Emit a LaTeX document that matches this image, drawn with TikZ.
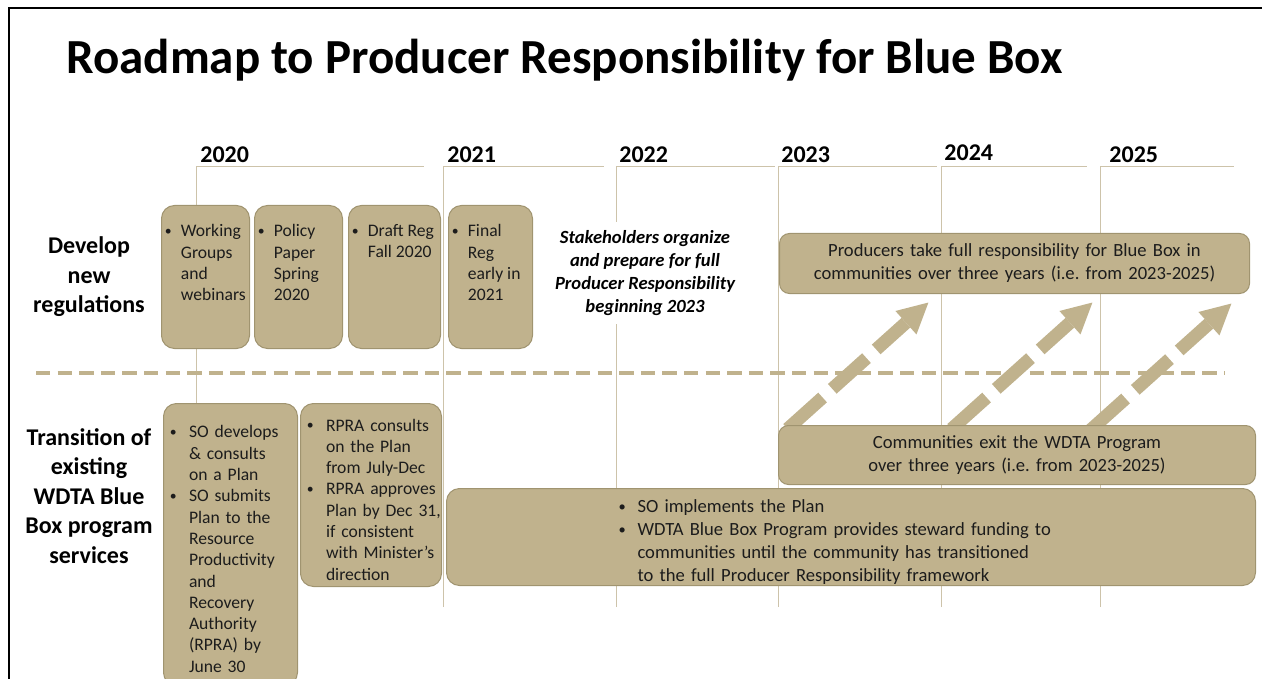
\documentclass[tikz,border=0pt]{standalone}
\usepackage{fontspec}
\setmainfont{Carlito}
\usetikzlibrary{arrows.meta}
\frenchspacing
\definecolor{boxtan}{RGB}{192,178,141}
\definecolor{boxedge}{RGB}{160,148,112}
\definecolor{yeartan}{RGB}{205,195,170}
\definecolor{ink}{RGB}{28,28,28}
\newlength\bulw
\newlength\bulx
\newcommand\bul{\par\noindent\leftskip=\bulx\hangindent=\bulw\hangafter=1\relax
  \makebox[\bulw][l]{\hspace{0.05em}\raisebox{0.08em}{\scalebox{0.78}{\textbullet}}}}
\newcommand\topcell[2]{\parbox[c][52.5pt][t]{#1}{\raggedright#2\par}}
\begin{document}
\begin{tikzpicture}[x=0.5pt, y=-0.5pt,
    yearlbl/.style={anchor=base west, inner sep=0pt, font=\bfseries\fontsize{12}{14}\selectfont},
    yearline/.style={draw=yeartan, line width=0.5pt},
    rowlbl/.style={align=center, font=\bfseries\fontsize{12}{14.8}\selectfont},
    bullets/.style 2 args={execute at begin node={\setlength\bulw{#1}\setlength\bulx{#2}}},
    topbox/.style={draw=boxedge, fill=boxtan, line width=0.5pt, rounded corners=6.5pt, anchor=north west,
      inner xsep=0pt, inner ysep=9.5pt, text=ink, font=\fontsize{8.8}{10.65}\selectfont, bullets={8.5pt}{1.2pt}},
    lowbox/.style={draw=boxedge, fill=boxtan, line width=0.5pt, rounded corners=6.5pt, anchor=north west,
      inner sep=0pt, align=left, text=ink, font=\fontsize{8.8}{10.65}\selectfont, bullets={10pt}{2.75pt}},
    widebox/.style={draw=boxedge, fill=boxtan, line width=0.5pt, rounded corners=5pt, anchor=north west,
      inner sep=0pt, align=center, text=ink, font=\fontsize{9.3}{11.5}\selectfont},
    upstep/.style={draw=boxtan, line width=6.5pt, dash pattern=on 23.5pt off 6.5pt on 23pt off 6.5pt on 20pt off 20pt,
      -{Triangle[width=14.5pt, length=15.5pt]}}]
    \useasboundingbox (0,0) rectangle (1262,679);
    \draw[line width=1pt] (8.5,679) -- (8.5,8.5) -- (1262,8.5);
    \node[anchor=base west, inner sep=0pt, font=\bfseries\fontsize{24.5}{28}\selectfont] (title) at (66,74)
      {Roadmap to Producer Responsibility for Blue Box};

    \draw[yearline] (196,607) -- (196,167) -- (424,167);
    \draw[yearline] (443,607) -- (443,167) -- (604,167);
    \draw[yearline] (616,607) -- (616,167) -- (775,167);
    \draw[yearline] (778,607) -- (778,167) -- (937,167);
    \draw[yearline] (941,607) -- (941,167) -- (1087,167);
    \draw[yearline] (1100,607) -- (1100,167) -- (1234,167);
    \node[yearlbl] (y2020) at (200,163) {2020};
    \node[yearlbl] (y2021) at (447,163) {2021};
    \node[yearlbl] (y2022) at (619,163) {2022};
    \node[yearlbl] (y2023) at (781,163) {2023};
    \node[yearlbl] (y2024) at (944,161) {2024};
    \node[yearlbl] (y2025) at (1109,163) {2025};

    \draw[draw=boxtan, line width=1.85pt, dash pattern=on 7.2pt off 3.6pt] (36,373) -- (1225,373);

    \node[rowlbl] (regs) at (89,277) {Develop\\new\\regulations};
    \node[rowlbl] (trans) at (89,496) {Transition of\\existing\\WDTA Blue\\Box program\\services};

    \node[topbox] (wg) at (161,205) {\topcell{44pt}{\bul Working\newline Groups\newline and\newline webinars}};
    \node[topbox] (pp) at (254,205) {\topcell{44pt}{\bul Policy\newline Paper\newline Spring\newline 2020}};
    \node[topbox] (dr) at (348,205) {\topcell{46pt}{\bul Draft Reg\newline Fall 2020}};
    \node[topbox] (fr) at (448,205) {\topcell{42pt}{\bul Final\newline Reg\newline early in\newline 2021}};
    \node[fill=white, inner xsep=2pt, inner ysep=4.5pt, align=center, font=\bfseries\itshape\fontsize{9.3}{11.4}\selectfont]
      (prep) at (645,273) {Stakeholders organize\\and prepare for full\\Producer Responsibility\\beginning 2023};

    \coordinate (s1) at (787.6,428.9);
    \coordinate (t1) at (929,302);
    \coordinate (s2) at (951.6,428.9);
    \coordinate (t2) at (1093,302);
    \coordinate (s3) at (1090.6,429.9);
    \coordinate (t3) at (1232,303);
    \draw[upstep] (s1) -- (t1);
    \draw[upstep] (s2) -- (t2);
    \draw[upstep] (s3) -- (t3);

    \node[widebox, text width=235pt, minimum height=30pt] (full) at (779,233)
      {Producers take full responsibility for Blue Box in\\communities over three years (i.e. from 2023-2025)};
    \node[widebox, text width=238.5pt, minimum height=29.5pt] (exit) at (778,425)
      {Communities exit the WDTA Program\\over three years (i.e. from 2023-2025)};

    \node[lowbox, text width=67pt, minimum height=141pt] (plan) at (163,403)
      {\bul SO develops\newline \& consults\newline on a Plan\bul SO submits\newline Plan to the\newline Resource\newline
       Productivity\newline and\newline Recovery\newline Authority\newline (RPRA) by\newline June 30\par};
    \node[lowbox, text width=70.5pt, minimum height=91.5pt] (rpra) at (300,403)
      {\bul RPRA consults\newline on the Plan\newline from July-Dec\bul RPRA approves\newline Plan by Dec 31,\newline
       if consistent\newline with Minister's\newline direction\par};
    \node[lowbox, text width=404.5pt, minimum height=48.5pt, font=\fontsize{9.3}{11.5}\selectfont, bullets={9.9pt}{85.6pt}]
      (impl) at (446,488)
      {\bul SO implements the Plan\bul WDTA Blue Box Program provides steward funding to\newline
       communities until the community has transitioned\newline to the full Producer Responsibility framework\par};
\end{tikzpicture}
\end{document}
